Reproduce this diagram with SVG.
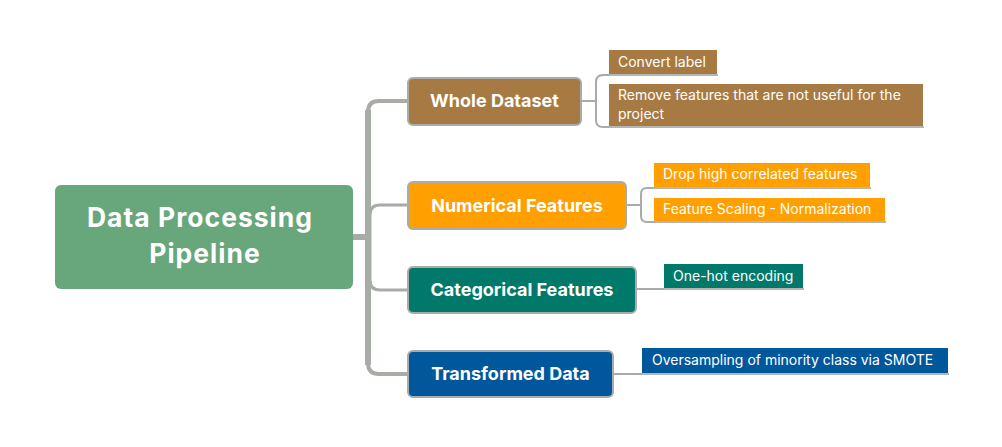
<svg xmlns="http://www.w3.org/2000/svg" width="1002" height="447" viewBox="0 0 1002 447">
<style>
.bg{fill:#ffffff}
.node{stroke:#a9ada9;stroke-width:2}
.ntext{font-family:Inter,Roboto,"Liberation Sans",sans-serif;font-weight:700;fill:#ffffff;text-anchor:middle}
.rtext{font-size:26.5px;letter-spacing:1px}
.ctext{font-family:Inter,Roboto,"Liberation Sans",sans-serif;font-size:14px;fill:#ffffff}
.trunk{fill:none;stroke:#a7aca7;stroke-linecap:butt}
.line{fill:none;stroke:#a7aca7;stroke-width:2}
.under{fill:none;stroke:#b3b6b3;stroke-width:2}
</style>
<rect class="bg" x="0" y="0" width="1002" height="447"/>
<g id="connectors">
  <path class="trunk" stroke-width="6" d="M368,110 V365"/>
  <path class="trunk" stroke-width="4" d="M368,112 Q368,101 379,101 H409"/>
  <path class="trunk" stroke-width="4" d="M368,363 Q368,374 379,374 H409"/>
  <path class="trunk" stroke-width="6" d="M353,237 H369"/>
  <path class="trunk" stroke-width="3" d="M370,237 V215 Q370,205 380,205 H409"/>
  <path class="trunk" stroke-width="3" d="M370,237 V280 Q370,290 380,290 H409"/>
  <path class="line" d="M581,101 H595"/>
  <path class="line" d="M609,75 H603 Q596,75 596,82 V120 Q596,127 603,127 H609"/>
  <path class="line" d="M626,205 H640"/>
  <path class="line" d="M654,188 H647 Q641,188 641,194 V216 Q641,222 647,222 H654"/>
  <path class="line" d="M636,289 H664"/>
  <path class="line" d="M613,374 H642"/>
</g>
<g id="root">
  <rect x="55" y="185" width="298" height="104" rx="6" fill="#68a67b"/>
  <text class="ntext rtext" x="200" y="227">Data Processing</text>
  <text class="ntext rtext" x="205" y="263">Pipeline</text>
</g>
<g id="whole-dataset">
  <rect class="node" x="408" y="78" width="173" height="47" rx="5" fill="#a77a43"/>
  <text class="ntext" x="494.5" y="107" font-size="18">Whole Dataset</text>
</g>
<g id="convert-label">
  <rect x="609" y="50" width="108" height="24" fill="#a77a43"/>
  <path class="under" d="M609,75 H718"/>
  <text class="ctext" x="618" y="67">Convert label</text>
</g>
<g id="remove-features">
  <rect x="609" y="84" width="314" height="43" fill="#a77a43"/>
  <path class="under" d="M609,127 H924"/>
  <text class="ctext" x="618" y="100" font-size="14.4">Remove features that are not useful for the</text>
  <text class="ctext" x="618" y="119" font-size="14.4">project</text>
</g>
<g id="numerical-features">
  <rect class="node" x="408" y="182" width="218" height="47" rx="5" fill="#ffa000"/>
  <text class="ntext" x="517" y="212" font-size="18">Numerical Features</text>
</g>
<g id="drop-high">
  <rect x="654" y="163" width="216" height="24" fill="#ffa000"/>
  <path class="under" d="M654,188 H871"/>
  <text class="ctext" x="663" y="179" font-size="14.3">Drop high correlated features</text>
</g>
<g id="feature-scaling">
  <rect x="654" y="198" width="231" height="24" fill="#ffa000"/>
  <path class="under" d="M654,222 H886"/>
  <text class="ctext" x="663" y="214" font-size="14.3">Feature Scaling - Normalization</text>
</g>
<g id="categorical-features">
  <rect class="node" x="408" y="267" width="228" height="46" rx="5" fill="#00796b"/>
  <text class="ntext" x="522" y="296" font-size="18">Categorical Features</text>
</g>
<g id="one-hot">
  <rect x="664" y="264" width="139" height="24" fill="#00796b"/>
  <path class="under" d="M664,289 H804"/>
  <text class="ctext" x="673" y="281">One-hot encoding</text>
</g>
<g id="transformed-data">
  <rect class="node" x="408" y="351" width="205" height="46" rx="5" fill="#01579b"/>
  <text class="ntext" x="510.5" y="380" font-size="18">Transformed Data</text>
</g>
<g id="oversampling">
  <rect x="642" y="348" width="306" height="25" fill="#01579b"/>
  <path class="under" d="M642,374 H949"/>
  <text class="ctext" x="652" y="365" font-size="13.6">Oversampling of minority class via SMOTE</text>
</g>
</svg>
